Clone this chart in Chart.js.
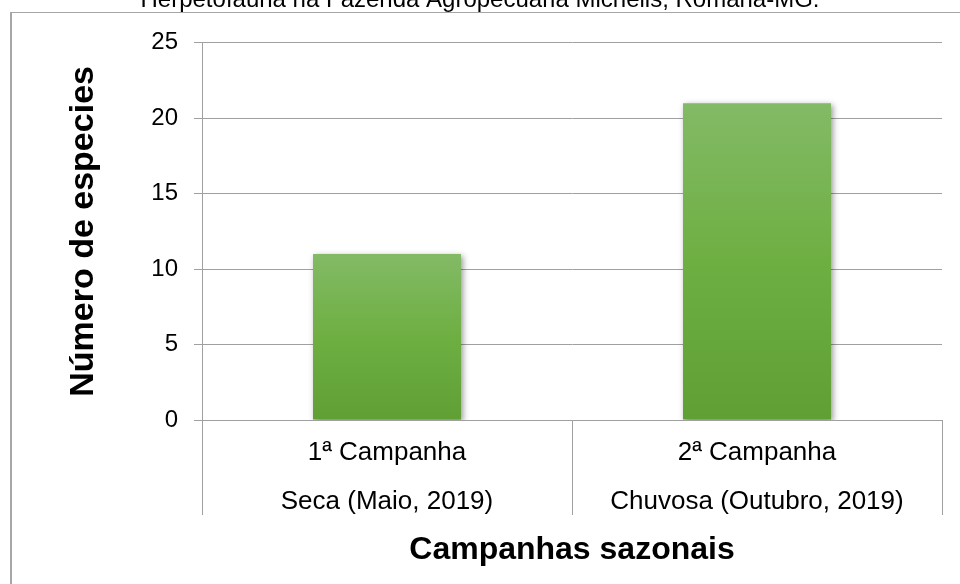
<!DOCTYPE html>
<html lang="pt">
<head>
<meta charset="UTF-8">
<title>Herpetofauna</title>
<script src="https://cdn.jsdelivr.net/npm/chart.js@4.4.1/dist/chart.umd.min.js"></script>
<style>
    body { margin: 0; width: 960px; height: 584px; overflow: hidden; background: #fff; position: relative; }
    /* moldura do grafico (so topo e esquerda aparecem) */
    .frame { position: absolute; left: 10px; top: 12px; width: 960px; height: 600px;
             border-left: 2px solid #a6a6a6; border-top: 1px solid #a6a6a6; }
    /* titulo cortado no topo -> canvas sobe 14px */
    .box { position: absolute; left: 0; top: -14px; width: 960px; height: 598px; }
</style>
</head>
<body>
<div class="frame"></div>
<div class="box"><canvas id="chart"></canvas></div>
<script>
// dados
const categorias = [
    ['1ª Campanha', 'Seca (Maio, 2019)'],
    ['2ª Campanha', 'Chuvosa (Outubro, 2019)']
];
const especies = [11, 21];
const yTicks = [0, 5, 10, 15, 20, 25];

const FONT = "'Liberation Sans', Arial, sans-serif";
const LINE = '#a0a0a0';

// degrade verde em cada barra
function barGradient(c) {
    const chart = c.chart;
    if (!chart.chartArea || c.raw === undefined) return '#6eaf42';
    const y = chart.scales.y;
    const top = y.getPixelForValue(c.raw);
    const bot = y.getPixelForValue(0);
    const g = chart.ctx.createLinearGradient(0, top, 0, bot);
    g.addColorStop(0, '#83ba66');
    g.addColorStop(0.5, '#6eaf42');
    g.addColorStop(1, '#5f9f34');
    return g;
}

// sombra leve das barras
const shadow = {
    id: 'shadow',
    beforeDatasetsDraw(chart) {
        const ctx = chart.ctx;
        ctx.save();
        ctx.shadowColor = 'rgba(0,0,0,0.4)';
        ctx.shadowBlur = 6;
        ctx.shadowOffsetX = 2;
        ctx.shadowOffsetY = 2;
    },
    afterDatasetsDraw(chart) {
        chart.ctx.restore();
    }
};

new Chart(document.getElementById('chart'), {
    type: 'bar',
    data: {
        labels: categorias,
        datasets: [{
            data: especies,
            backgroundColor: barGradient,
            barPercentage: 0.4,
            categoryPercentage: 1
        }]
    },
    options: {
        responsive: true,
        maintainAspectRatio: false,
        animation: false,
        layout: { padding: { left: 18, right: 18, top: 0, bottom: 0 } },
        plugins: {
            legend: { display: false },
            tooltip: { enabled: false },
            title: {
                display: true,
                text: 'Herpetofauna na Fazenda Agropecuária Michelis, Romaria-MG.',
                color: '#000',
                font: { family: FONT, size: 24, weight: 'normal' },
                padding: { top: 0, bottom: 28 }
            }
        },
        scales: {
            x: {
                afterFit(s) { s.height = 164; },
                grid: { offset: true, drawOnChartArea: false, tickLength: 95, color: LINE },
                border: { color: LINE },
                ticks: {
                    color: '#000',
                    font: { family: FONT, size: 26, lineHeight: 1.885 },
                    padding: -87,
                    maxRotation: 0,
                    autoSkip: false
                },
                title: {
                    display: true,
                    text: 'Campanhas sazonais',
                    color: '#000',
                    font: { family: FONT, size: 32, weight: 'bold' },
                    padding: { top: 0, bottom: 15 }
                }
            },
            y: {
                min: yTicks[0],
                max: yTicks[yTicks.length - 1],
                afterFit(s) { s.width = 184; },
                afterBuildTicks(s) { s.ticks = yTicks.map(v => ({ value: v })); },
                grid: { color: LINE, tickLength: 8 },
                border: { color: LINE },
                ticks: {
                    color: '#000',
                    font: { family: FONT, size: 24 },
                    padding: 16
                },
                title: {
                    display: true,
                    text: 'Número de especies',
                    color: '#000',
                    font: { family: FONT, size: 34, weight: 'bold' },
                    padding: { top: 45.6, bottom: 0 }
                }
            }
        }
    },
    plugins: [shadow]
});
</script>
</body>
</html>
